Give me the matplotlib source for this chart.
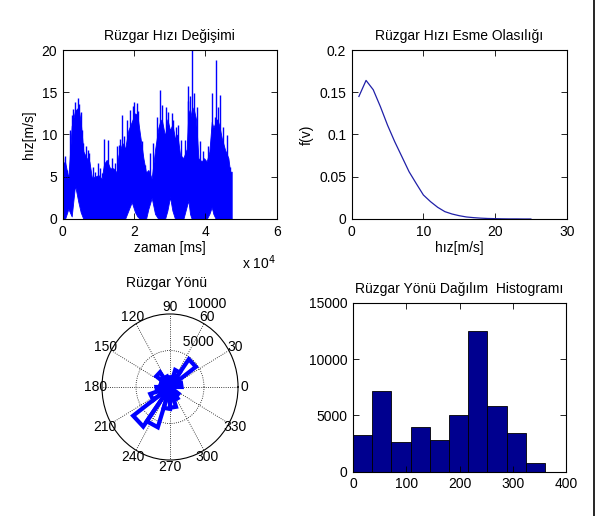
import numpy as np
import matplotlib.pyplot as plt
from matplotlib.lines import Line2D

plt.rcParams['font.family'] = ['Liberation Sans', 'DejaVu Sans']
plt.rcParams['font.size'] = 10

# --- wind speed time series (read as envelope of the dense band, time in 1e4 ms)
ts_t = [0.00, 0.065, 0.159, 0.252, 0.346, 0.439, 0.505, 0.579, 0.673, 0.748,
        0.813, 0.907, 1.000, 1.093, 1.159, 1.234, 1.327, 1.421, 1.514, 1.561,
        1.607, 1.673, 1.748, 1.841, 1.935, 2.028, 2.093, 2.168, 2.262, 2.336,
        2.402, 2.495, 2.589, 2.682, 2.729, 2.776, 2.869, 2.935, 3.009, 3.075,
        3.150, 3.215, 3.290, 3.383, 3.477, 3.523, 3.570, 3.617, 3.664, 3.738,
        3.804, 3.897, 3.963, 4.037, 4.112, 4.178, 4.224, 4.290, 4.336, 4.393,
        4.458, 4.551, 4.645, 4.692, 4.738]
ts_hi = [6.5, 6.8, 4.8, 11.0, 12.8, 13.2, 11.5, 8.0, 7.2, 6.8,
         5.0, 5.0, 5.2, 4.8, 6.5, 7.0, 6.0, 6.0, 5.5, 7.5,
         8.2, 9.0, 8.3, 10.5, 11.5, 12.5, 12.3, 10.0, 7.2, 5.5,
         5.8, 4.8, 8.2, 10.8, 11.5, 11.8, 9.8, 11.8, 10.5, 11.2,
         9.5, 10.0, 7.6, 7.2, 8.3, 12.5, 13.0, 12.0, 13.2, 11.8,
         7.2, 6.8, 7.2, 6.8, 8.0, 11.5, 10.8, 11.5, 11.8, 11.0,
         9.6, 8.2, 7.2, 5.6, 5.6]
ts_lo = [0.0, 0.0, 1.2, 0.3, 4.0, 2.0, 0.8, 0.0, 0.0, 0.0,
         0.0, 0.0, 0.0, 0.0, 0.0, 0.0, 0.0, 0.0, 0.0, 0.0,
         0.0, 0.0, 0.0, 1.0, 2.0, 0.8, 0.3, 0.0, 0.0, 0.0,
         1.2, 2.5, 0.6, 0.0, 0.0, 0.0, 0.0, 1.0, 2.6, 1.0,
         0.0, 0.0, 0.0, 0.0, 1.5, 2.2, 0.6, 0.0, 0.0, 0.0,
         0.0, 0.0, 0.0, 0.0, 0.6, 1.4, 0.6, 0.0, 0.0, 0.0,
         0.0, 0.0, 0.0, 0.0, 0.0]
# thin spikes sticking out of the band
spike_t = [0.010, 0.065, 0.120, 0.210, 0.252, 0.300, 0.346, 0.390, 0.439, 0.470,
           0.505, 0.540, 0.579, 0.640, 0.700, 0.748, 0.860, 0.900, 0.980, 1.050,
           1.100, 1.159, 1.280, 1.380, 1.460, 1.520, 1.570, 1.607, 1.673, 1.720,
           1.800, 1.890, 1.960, 2.010, 2.075, 2.120, 2.210, 2.300, 2.450, 2.540,
           2.640, 2.729, 2.790, 2.910, 2.950, 3.060, 3.100, 3.190, 3.240, 3.330,
           3.430, 3.500, 3.523, 3.580, 3.617, 3.680, 3.760, 3.850, 3.930, 4.080,
           4.150, 4.178, 4.260, 4.290, 4.360, 4.410, 4.480, 4.600, 4.700]
spike_v = [7.2, 7.4, 5.8, 10.5, 12.3, 13.0, 13.9, 12.8, 14.3, 13.6,
           12.7, 10.5, 9.0, 8.6, 8.2, 7.8, 6.2, 5.6, 6.6, 6.0,
           5.4, 9.5, 9.3, 7.2, 6.6, 8.6, 8.8, 9.5, 12.3, 9.8,
           11.7, 12.9, 13.4, 13.9, 13.7, 12.8, 9.2, 6.4, 7.8, 9.0,
           12.1, 15.3, 13.5, 13.3, 12.7, 12.5, 11.7, 10.9, 11.1, 9.3,
           9.3, 14.0, 15.7, 14.5, 20.0, 14.9, 13.3, 9.2, 8.0, 8.6,
           9.0, 14.9, 12.1, 18.8, 13.3, 14.7, 10.9, 9.9, 6.2]

# --- wind speed probability density
pdf_v = list(range(1, 26))
pdf_f = [0.145, 0.164, 0.153, 0.133, 0.111, 0.0915, 0.0738, 0.056, 0.042, 0.0284,
         0.0205, 0.0138, 0.0087, 0.0059, 0.0039, 0.0024, 0.0016, 0.0010, 0.0006, 0.0004,
         0.0002, 0.0001, 0.0001, 0.0, 0.0]

# --- wind direction rose (20 bins of 18 deg)
rose_edges = list(range(0, 361, 18))
rose_counts = [1700, 1550, 4700, 2450, 1300, 1300, 1500, 2500, 1400, 1400,
               2000, 3050, 6700, 5800, 3000, 2850, 1900, 1550, 450, 350]

# --- wind direction histogram (10 bins)
hist_edges = [0, 36, 72, 108, 144, 180, 216, 252, 288, 324, 360]
hist_counts = [3250, 7150, 2600, 4000, 2800, 5050, 12500, 5850, 3450, 800]

fig = plt.figure(figsize=(6, 5.16), dpi=100)
fig.patch.set_facecolor('white')


def matlab_box(ax):
    for s in ax.spines.values():
        s.set_linewidth(0.8)
        s.set_color('k')
    ax.tick_params(direction='in', top=True, right=True, length=4, width=0.6,
                   labelsize=10, pad=4)


# top left: time series
ax1 = fig.add_axes([0.1045, 0.5756, 0.3567, 0.3275])
t_ms = np.array(ts_t) * 1e4
ax1.fill_between(t_ms, ts_lo, ts_hi, color='#0000ff', lw=0.6, edgecolor='#0000ff')
# spikes rise from inside the solid part of the band
ax1.vlines(np.array(spike_t) * 1e4, 5, spike_v, color='#0000ff', lw=1.0)
ax1.set_xlim(0, 6e4)
ax1.set_ylim(0, 20)
ax1.set_xticks([0, 2e4, 4e4, 6e4])
ax1.set_xticklabels(['0', '2', '4', '6'])
ax1.set_yticks([0, 5, 10, 15, 20])
ax1.set_title('Rüzgar Hızı Değişimi', fontsize=10, pad=7)
ax1.set_xlabel('zaman [ms]', labelpad=2)
ax1.set_ylabel('hız[m/s]', labelpad=4)
matlab_box(ax1)
fig.text(242 / 600, 1 - 263 / 516, 'x 10$^4$', fontsize=10, va='center', ha='left')

# top right: pdf
ax2 = fig.add_axes([0.5862, 0.5756, 0.3583, 0.3275])
ax2.plot(pdf_v, pdf_f, color='#2020a8', lw=0.9)
ax2.set_xlim(0, 30)
ax2.set_ylim(0, 0.2)
ax2.set_xticks([0, 10, 20, 30])
ax2.set_yticks([0, 0.05, 0.1, 0.15, 0.2])
ax2.set_yticklabels(['0', '0.05', '0.1', '0.15', '0.2'])
ax2.set_title('Rüzgar Hızı Esme Olasılığı', fontsize=10, pad=7)
ax2.set_xlabel('hız[m/s]', labelpad=2)
ax2.set_ylabel('f(v)', labelpad=4)
matlab_box(ax2)

# bottom left: rose
ax3 = fig.add_axes([0.17, 0.1085, 0.2267, 0.283], projection='polar')
ax3.set_aspect('auto')
rmax = 10000
ax3.set_ylim(0, rmax)
ax3.set_thetagrids(range(0, 360, 30), labels=[''] * 12)
ax3.set_rgrids([5000], labels=[''])
ax3.grid(True, color='k', ls=':', lw=0.6)
ax3.spines['polar'].set_color('k')
ax3.spines['polar'].set_linewidth(0.8)
for i in range(len(rose_counts)):
    a = np.deg2rad(rose_edges[i])
    b = np.deg2rad(rose_edges[i + 1])
    c = rose_counts[i]
    ax3.plot([0, a, b, 0], [0, c, c, 0], color='#0000ff', lw=3.0,
             solid_joinstyle='miter')
for ang in range(0, 360, 30):
    ax3.text(np.deg2rad(ang), 1.1 * rmax, str(ang), ha='center', va='center',
             fontsize=10, clip_on=False)
for rr in [5000, 10000]:
    ax3.text(np.deg2rad(82), rr * 1.05, '  ' + str(rr), ha='left', va='bottom',
             fontsize=10, clip_on=False)
fig.text(167 / 600, 1 - 283 / 516, 'Rüzgar Yönü', ha='center', va='center', fontsize=10)

# bottom right: histogram
ax4 = fig.add_axes([0.5883, 0.0859, 0.3555, 0.3275])
ax4.bar(hist_edges[:-1], hist_counts, width=np.diff(hist_edges), align='edge',
        color='#00008f', edgecolor='k', lw=0.6)
ax4.set_xlim(0, 400)
ax4.set_ylim(0, 15000)
ax4.set_xticks([0, 100, 200, 300, 400])
ax4.set_yticks([0, 5000, 10000, 15000])
ax4.set_title('Rüzgar Yönü Dağılım  Histogramı', fontsize=10, pad=7)
matlab_box(ax4)

# frame line at the right border of the screenshot
fig.add_artist(Line2D([594 / 600, 594 / 600], [0, 1], color='k', lw=1.2,
                      transform=fig.transFigure))

fig.savefig('out.png', dpi=100)
